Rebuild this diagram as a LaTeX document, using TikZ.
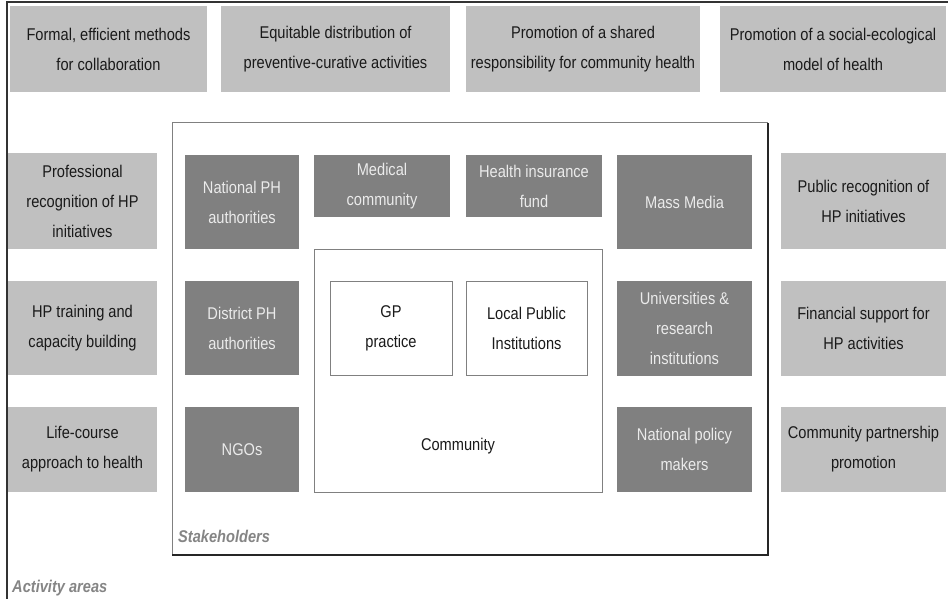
\documentclass[tikz,border=0pt]{standalone}
\usepackage{fontspec}
\setmainfont{Liberation Sans}[FakeStretch=0.86]
\definecolor{lightbox}{HTML}{C0C0C0}
\definecolor{darkbox}{HTML}{808080}
\definecolor{darktext}{HTML}{1A1A1A}
\definecolor{lighttext}{HTML}{EBEBEB}
\definecolor{framegray}{HTML}{808080}
\definecolor{labelgray}{HTML}{858585}
\begin{document}
\begin{tikzpicture}[x=1pt,y=-1pt,
  rect/.style n args={4}{at={({(#1+#3)/2},{(#2+#4)/2})},
     minimum width={(#3-#1)*1pt}, minimum height={(#4-#2)*1pt}},
  basefont/.style={font=\fontsize{17}{30}\selectfont, align=center, inner sep=0pt, outer sep=0pt},
  activity/.style={basefont, fill=lightbox, text=darktext},
  stake/.style={basefont, fill=darkbox, text=lighttext},
  inner/.style={basefont, draw=framegray, line width=1pt, fill=white, text=darktext},
  arealabel/.style={font=\fontsize{17}{18}\selectfont\bfseries\itshape, text=labelgray, anchor=west, inner sep=0pt}
]
\useasboundingbox (0,0) rectangle (948,599);
\fill[white] (0,0) rectangle (948,599);

% outer frame (Activity areas)
\coordinate (oa) at (948,2);
\coordinate (ob) at (7,2);
\coordinate (oc) at (7,599);
\draw[line width=1.6pt, draw=black!80] (oa) -- (ob) -- (oc);

% stakeholders frame
\coordinate (sa) at (768,555);
\coordinate (sb) at (172,555);
\coordinate (sc) at (172,123);
\coordinate (sd) at (768,123);
\draw[line width=1pt, draw=framegray] (sb) -- (sc) -- (sd);
\draw[line width=1.3pt, draw=black!85] (sd) -- (sa) -- (sb);

% activity areas (top row)
\node[activity, rect={10}{6}{207}{92}] (t1) {Formal, efficient methods\\for collaboration};
\node[activity, rect={221}{6}{450}{92}] (t2) {Equitable distribution of\\preventive-curative activities};
\node[activity, rect={466}{6}{700}{92}] (t3) {Promotion of a shared\\responsibility for community health};
\node[activity, rect={720}{6}{946}{92}] (t4) {Promotion of a social-ecological\\model of health};

% left column
\node[activity, rect={8}{153}{157}{249}] (l1) {Professional\\recognition of HP\\initiatives};
\node[activity, rect={8}{281}{157}{375}] (l2) {HP training and\\capacity building};
\node[activity, rect={8}{407}{157}{492}] (l3) {Life-course\\approach to health};

% right column
\node[activity, rect={781}{153}{946}{249}] (r1) {Public recognition of\\HP initiatives};
\node[activity, rect={781}{281}{946}{376}] (r2) {Financial support for\\HP activities};
\node[activity, rect={781}{407}{946}{492}] (r3) {Community partnership\\promotion};

% stakeholders
\node[stake, rect={185}{155}{299}{249}] (d1) {National PH\\authorities};
\node[stake, rect={314}{155}{450}{217}] (d2) {Medical\\community};
\node[stake, rect={466}{155}{602}{217}] (d3) {Health insurance\\fund};
\node[stake, rect={617}{155}{752}{249}] (d4) {Mass Media};
\node[stake, rect={185}{281}{299}{375}] (d5) {District PH\\authorities};
\node[stake, rect={617}{281}{752}{376}] (d6) {Universities \&\\research\\institutions};
\node[stake, rect={185}{407}{299}{492}] (d7) {NGOs};
\node[stake, rect={617}{407}{752}{492}] (d8) {National policy\\makers};

% community
\node[inner, rect={314}{249}{602}{492}] (comm) {};
\node[basefont, text=darktext] (commlabel) at (458,446) {Community};
\node[inner, rect={330}{281}{452}{375}] (gp) {GP\\practice};
\node[inner, rect={466}{281}{587}{375}] (lpi) {Local Public\\Institutions};

% area labels
\node[arealabel] (stakelabel) at (178,536) {Stakeholders};
\node[arealabel] (actlabel) at (12,588) {Activity areas};
\end{tikzpicture}
\end{document}
